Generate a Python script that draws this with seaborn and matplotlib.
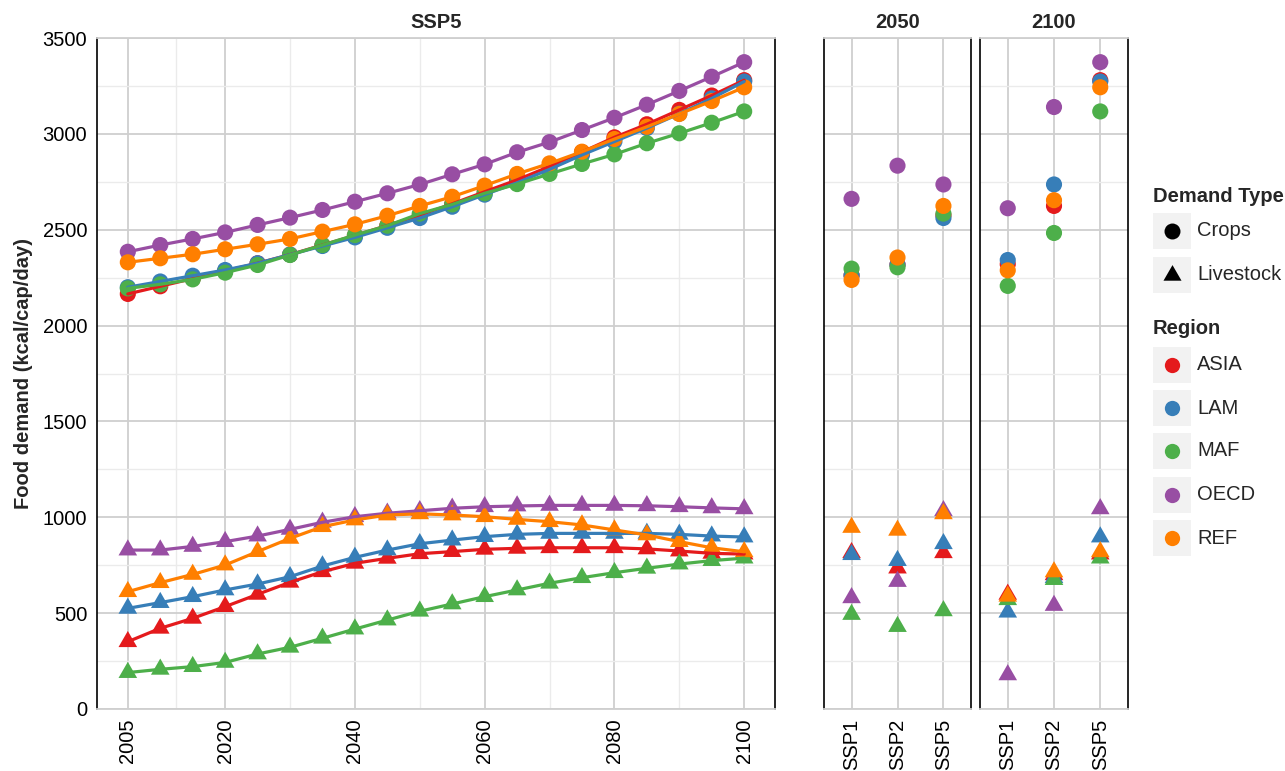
import pandas as pd
import matplotlib
matplotlib.use('Agg')
import matplotlib.pyplot as plt
import seaborn as sns
from matplotlib.patches import Rectangle
from matplotlib.path import Path

# ---- data ----
years = [2005, 2010, 2015, 2020, 2025, 2030, 2035, 2040, 2045, 2050,
         2055, 2060, 2065, 2070, 2075, 2080, 2085, 2090, 2095, 2100]
regions = ['ASIA', 'LAM', 'MAF', 'OECD', 'REF']
colors = ['#E41A1C', '#377EB8', '#4DAF4A', '#984EA3', '#FF7F00']
scenarios = ['SSP1', 'SSP2', 'SSP5']

# SSP5 time series, crops (kcal/cap/day)
asia_crops = [2165, 2205, 2245, 2285, 2325, 2370, 2420, 2470, 2522, 2575,
              2635, 2698, 2760, 2830, 2905, 2982, 3050, 3125, 3200, 3280]
lam_crops = [2200, 2230, 2260, 2290, 2325, 2370, 2415, 2460, 2510, 2561,
             2620, 2683, 2745, 2815, 2890, 2960, 3030, 3105, 3185, 3273]
maf_crops = [2194, 2215, 2241, 2276, 2316, 2368, 2420, 2472, 2521, 2584,
             2632, 2690, 2738, 2791, 2843, 2893, 2951, 3003, 3058, 3117]
oecd_crops = [2385, 2420, 2452, 2486, 2525, 2563, 2603, 2646, 2690, 2736,
              2789, 2841, 2904, 2957, 3020, 3084, 3152, 3224, 3298, 3374]
ref_crops = [2330, 2351, 2372, 2398, 2424, 2452, 2490, 2528, 2573, 2624,
             2672, 2730, 2791, 2846, 2907, 2973, 3037, 3104, 3171, 3243]

# SSP5 time series, livestock
asia_live = [351, 421, 473, 534, 598, 661, 716, 760, 786, 810,
             821, 833, 838, 841, 841, 841, 835, 824, 812, 808]
lam_live = [525, 555, 586, 621, 652, 690, 746, 791, 829, 862,
            881, 899, 911, 916, 916, 916, 916, 911, 902, 897]
maf_live = [190, 207, 221, 243, 287, 322, 369, 417, 464, 510,
            548, 586, 621, 656, 685, 711, 734, 756, 774, 787]
oecd_live = [829, 829, 848, 873, 902, 937, 974, 1003, 1021, 1034,
             1047, 1055, 1059, 1062, 1062, 1062, 1060, 1055, 1049, 1044]
ref_live = [612, 659, 702, 751, 821, 890, 951, 986, 1012, 1018,
            1012, 1003, 989, 977, 960, 934, 908, 873, 841, 820]

# scenario comparison, order SSP1, SSP2, SSP5
crops_2050 = {'ASIA': [2262, 2318, 2575], 'LAM': [2262, 2318, 2561],
              'MAF': [2297, 2304, 2584], 'OECD': [2661, 2834, 2736],
              'REF': [2238, 2355, 2624]}
live_2050 = {'ASIA': [815, 735, 815], 'LAM': [805, 774, 862],
             'MAF': [493, 430, 512], 'OECD': [580, 665, 1034],
             'REF': [947, 932, 1018]}
crops_2100 = {'ASIA': [2320, 2624, 3280], 'LAM': [2342, 2736, 3273],
              'MAF': [2207, 2483, 3117], 'OECD': [2612, 3140, 3374],
              'REF': [2288, 2654, 3243]}
live_2100 = {'ASIA': [598, 700, 808], 'LAM': [505, 685, 897],
             'MAF': [570, 675, 787], 'OECD': [178, 540, 1044],
             'REF': [588, 715, 820]}

# ---- build long tables ----
series = {('ASIA', 'Crops'): asia_crops, ('LAM', 'Crops'): lam_crops,
          ('MAF', 'Crops'): maf_crops, ('OECD', 'Crops'): oecd_crops,
          ('REF', 'Crops'): ref_crops, ('ASIA', 'Livestock'): asia_live,
          ('LAM', 'Livestock'): lam_live, ('MAF', 'Livestock'): maf_live,
          ('OECD', 'Livestock'): oecd_live, ('REF', 'Livestock'): ref_live}
rows = []
for (reg, typ), vals in series.items():
    for yr, v in zip(years, vals):
        rows.append({'Year': yr, 'Region': reg, 'Type': typ, 'Demand': v})
df_ts = pd.DataFrame(rows)


def scen_frame(crops, live):
    out = []
    for typ, d in (('Crops', crops), ('Livestock', live)):
        for reg in regions:
            for sc, v in zip(scenarios, d[reg]):
                out.append({'Scenario': sc, 'Region': reg, 'Type': typ, 'Demand': v})
    return pd.DataFrame(out)


df_2050 = scen_frame(crops_2050, live_2050)
df_2100 = scen_frame(crops_2100, live_2100)

# ---- styling ----
sns.set_theme(style='white')
plt.rcParams['font.family'] = ['Liberation Sans', 'DejaVu Sans']
FS = 14.5
MAJ = '#CFCFCF'
MIN = '#EBEBEB'
palette = dict(zip(regions, colors))
# equilateral triangle like ggplot's shape 17
tri = Path([(0, 1), (-0.866, -0.5), (0.866, -0.5), (0, 1)],
           [Path.MOVETO, Path.LINETO, Path.LINETO, Path.CLOSEPOLY])
markers = {'Crops': 'o', 'Livestock': tri}
sizes = {'Crops': 135, 'Livestock': 240}

W, H = 1285, 771
fig = plt.figure(figsize=(W / 100, H / 100), dpi=100)


def axes_px(x0, x1, y0=38, y1=709):
    return fig.add_axes([x0 / W, (H - y1) / H, (x1 - x0) / W, (y1 - y0) / H])


def style_panel(ax):
    ax.set_ylim(0, 3500)
    ax.set_yticks(range(0, 3501, 500))
    ax.set_yticks(range(250, 3500, 500), minor=True)
    ax.grid(True, which='major', color=MAJ, lw=1.3)
    ax.grid(True, which='minor', axis='y', color=MIN, lw=1.0)
    ax.set_axisbelow(True)
    for s in ('left', 'right'):
        ax.spines[s].set_color('black')
        ax.spines[s].set_linewidth(1.2)
    for s in ('top', 'bottom'):
        ax.spines[s].set_color(MAJ)
        ax.spines[s].set_linewidth(1.3)
    ax.tick_params(axis='both', which='major', length=4, width=1.1, color='black',
                   labelsize=FS, labelcolor='black', pad=3)
    ax.tick_params(which='minor', length=0)
    ax.set_xlabel('')
    ax.set_ylabel('')


def points(data, x, ax):
    sns.scatterplot(data=data, x=x, y='Demand', hue='Region', style='Type',
                    size='Type', hue_order=regions, palette=palette,
                    markers=markers, sizes=sizes, linewidth=0, legend=False, ax=ax)


# main panel: SSP5 time series
ax = axes_px(97, 775)
sns.lineplot(data=df_ts, x='Year', y='Demand', hue='Region', units='Type',
             hue_order=regions, palette=palette, estimator=None,
             linewidth=2.3, legend=False, ax=ax)
points(df_ts, 'Year', ax)
style_panel(ax)
ax.set_xlim(2000.25, 2104.75)
ax.set_xticks([2005, 2020, 2040, 2060, 2080, 2100])
ax.set_xticks([2012.5, 2030, 2050, 2070, 2090], minor=True)
ax.grid(True, which='minor', axis='x', color=MIN, lw=1.0)
plt.setp(ax.get_xticklabels(), rotation=90)
ax.set_ylabel('Food demand (kcal/cap/day)', fontsize=FS, fontweight='bold', labelpad=7)
ax.set_title('SSP5', fontsize=FS, fontweight='bold', pad=7)

# scenario panels
for x0, x1, data, title in ((824, 971, df_2050, '2050'), (980, 1128, df_2100, '2100')):
    axp = axes_px(x0, x1)
    points(data, 'Scenario', axp)
    style_panel(axp)
    axp.set_xlim(-0.6, 2.6)
    axp.tick_params(axis='y', left=False, labelleft=False)
    plt.setp(axp.get_xticklabels(), rotation=90)
    axp.set_title(title, fontsize=FS, fontweight='bold', pad=7)

# ---- legend (drawn by hand to get the grey key boxes) ----
lax = fig.add_axes([0, 0, 1, 1])
lax.set_xlim(0, W)
lax.set_ylim(H, 0)
lax.axis('off')
lax.text(1153, 196, 'Demand Type', fontsize=FS, fontweight='bold', va='center', ha='left')
for yc, (lab, mk) in zip([231, 275], markers.items()):
    lax.add_patch(Rectangle((1153, yc - 18), 38, 36, color='#F2F2F2', lw=0))
    lax.plot([1172], [yc], marker=mk, color='black', ms=11.5 if lab == 'Crops' else 15, mew=0)
    lax.text(1197, yc, lab, fontsize=FS, va='center', ha='left')
lax.text(1153, 329, 'Region', fontsize=FS, fontweight='bold', va='center', ha='left')
for yc, reg in zip([365, 408, 451, 495, 538], regions):
    lax.add_patch(Rectangle((1153, yc - 18), 38, 36, color='#F2F2F2', lw=0))
    lax.plot([1172], [yc], marker='o', color=palette[reg], ms=11, mew=0)
    lax.text(1197, yc, reg, fontsize=FS, va='center', ha='left')

fig.savefig('out.png', dpi=100)
